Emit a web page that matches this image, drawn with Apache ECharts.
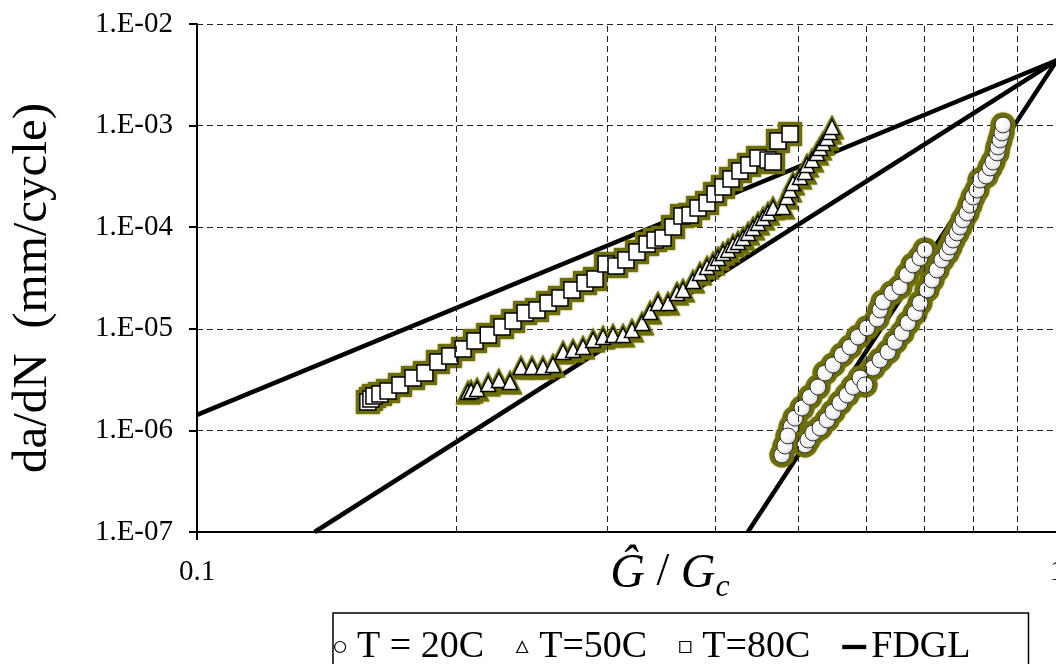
<!DOCTYPE html>
<html>
<head>
<meta charset="utf-8">
<script src="https://cdn.jsdelivr.net/npm/echarts@6/dist/echarts.min.js"></script>
<style>
html,body{margin:0;padding:0;background:#fff;}
#c{width:1056px;height:664px;}
</style>
</head>
<body>
<div id="c"></div>
<script>
// ---- data ----
const xTickValues = [0.1, 1];
const xTickLabels = ['0.1', '1'];
const yTickValues = [1e-7, 1e-6, 1e-5, 1e-4, 1e-3, 1e-2];
const yTickLabels = ['1.E-07', '1.E-06', '1.E-05', '1.E-04', '1.E-03', '1.E-02'];
const xGridValues = [0.2, 0.3, 0.4, 0.5, 0.6, 0.7, 0.8, 0.9];

const legendNames = ['T = 20C', 'T=50C', 'T=80C', 'FDGL'];

const data20C = [
  [0.4788,5.73e-7],[0.4827,7.02e-7],[0.4906,1.08e-6],[0.4866,8.81e-7],[0.4958,1.32e-6],[0.5052,1.66e-6],
  [0.5161,2.13e-6],[0.5273,2.67e-6],[0.5373,3.67e-6],[0.5490,4.40e-6],[0.5623,5.52e-6],[0.5745,6.62e-6],
  [0.5870,8.30e-6],[0.6013,1.019e-5],[0.6176,1.249e-5],[0.6226,1.53e-5],[0.6276,1.84e-5],[0.6428,2.25e-5],
  [0.6568,2.58e-5],[0.6692,3.38e-5],[0.6801,4.25e-5],[0.6930,4.98e-5],[0.7023,5.97e-5],
  [0.5093,7.18e-7],[0.5134,8.04e-7],[0.5203,9.43e-7],[0.5302,1.056e-6],[0.5403,1.266e-6],[0.5490,1.52e-6],
  [0.5593,1.86e-6],[0.5699,2.23e-6],[0.5791,2.67e-6],[0.5902,3.28e-6],[0.5981,2.80e-6],[0.6110,4.11e-6],
  [0.6226,4.93e-6],[0.6361,5.91e-6],[0.6481,7.42e-6],[0.6604,9.09e-6],[0.6711,1.14e-5],[0.6839,1.43e-5],
  [0.6930,1.79e-5],[0.7061,2.41e-5],[0.7156,3.02e-5],[0.7252,3.79e-5],[0.7350,4.76e-5],[0.7449,5.57e-5],
  [0.7509,6.39e-5],[0.7570,7.48e-5],[0.7651,8.77e-5],[0.7713,1.005e-4],[0.7775,1.18e-4],[0.7858,1.38e-4],
  [0.7922,1.65e-4],[0.7987,1.98e-4],[0.8072,2.32e-4],[0.8137,2.91e-4],[0.8269,3.19e-4],[0.8358,3.83e-4],
  [0.8425,4.38e-4],[0.8516,5.38e-4],[0.8538,6.16e-4],[0.8585,7.22e-4],[0.8631,8.46e-4],[0.8654,1.014e-3]
];

const data50C = [
  [0.2066,2.39e-6],[0.2083,2.44e-6],[0.2117,2.56e-6],[0.2181,2.86e-6],[0.2244,3.13e-6],[0.2312,2.99e-6],
  [0.2381,4.21e-6],[0.2452,4.21e-6],[0.2525,4.21e-6],[0.2594,4.40e-6],[0.2665,5.91e-6],[0.2737,6.19e-6],
  [0.2811,6.62e-6],[0.2888,7.76e-6],[0.2966,8.30e-6],[0.3046,8.69e-6],[0.3129,8.69e-6],[0.3205,9.73e-6],
  [0.3292,1.14e-5],[0.3364,1.46e-5],[0.3436,1.79e-5],[0.3529,1.79e-5],[0.3615,2.25e-5],[0.3674,2.41e-5],
  [0.3773,2.95e-5],[0.3845,3.54e-5],[0.3918,4.06e-5],[0.3981,4.44e-5],[0.4035,4.98e-5],[0.4089,5.57e-5],
  [0.4145,5.97e-5],[0.4200,6.68e-5],[0.4257,7.15e-5],[0.4315,7.83e-5],[0.4373,8.77e-5],[0.4432,9.82e-5],
  [0.4491,1.10e-4],[0.4552,1.23e-4],[0.4613,1.38e-4],[0.4675,1.55e-4],[0.4802,1.58e-4],[0.4853,1.98e-4],
  [0.4893,2.32e-4],[0.4932,2.72e-4],[0.5026,3.12e-4],[0.5093,3.49e-4],[0.5120,4.10e-4],[0.5189,4.59e-4],
  [0.5259,5.38e-4],[0.5302,6.02e-4],[0.5345,6.74e-4],[0.5403,7.55e-4],[0.5445,8.65e-4],[0.5475,9.69e-4]
];

const data80C = [
  [0.1580,1.904e-6],[0.1593,2.038e-6],[0.1606,2.18e-6],[0.1632,2.28e-6],[0.1668,2.44e-6],[0.1722,2.80e-6],
  [0.1783,3.28e-6],[0.1841,3.67e-6],[0.1906,4.71e-6],[0.1968,5.40e-6],[0.2039,6.33e-6],[0.2105,7.58e-6],
  [0.2181,8.69e-6],[0.2263,1.042e-5],[0.2331,1.193e-5],[0.2407,1.43e-5],[0.2485,1.53e-5],[0.2560,1.79e-5],
  [0.2643,2.01e-5],[0.2729,2.41e-5],[0.2826,2.82e-5],[0.2903,3.09e-5],[0.2990,4.34e-5],[0.3071,4.15e-5],
  [0.3153,4.76e-5],[0.3248,5.70e-5],[0.3337,6.83e-5],[0.3409,7.48e-5],[0.3483,7.83e-5],[0.3577,1.005e-4],
  [0.3664,1.289e-4],[0.3744,1.318e-4],[0.3825,1.545e-4],[0.3918,1.73e-4],[0.4003,2.12e-4],[0.4089,2.49e-4],
  [0.4178,2.98e-4],[0.4279,3.57e-4],[0.4383,4.10e-4],[0.4491,4.80e-4],[0.4613,4.59e-4],[0.4675,4.38e-4],
  [0.4738,7.05e-4],[0.4893,8.27e-4]
];

const fdglA = [[0.1, 1.42e-6], [1, 4.4e-3]];
const fdglB = [[0.137, 1e-7], [1, 4.4e-3]];
const fdglC = [[0.437, 1e-7], [1, 4.4e-3]];

// ---- styles ----
const FONT = "'Liberation Serif','Times New Roman',serif";
const GLOW = '#6e6e00';
const ICON_TRI = 'path://M5,0L10,10L0,10Z';
const ICON_SQ = 'path://M0,0L10,0L10,10L0,10Z';
const ICON_LINE = 'path://M0,0L28,0L28,5L0,5Z';

function tickLabel(values, labels) {
  return function (v) {
    const i = values.findIndex(t => Math.abs(Math.log10(t) - Math.log10(v)) < 1e-6);
    return i >= 0 ? labels[i] : '';
  };
}

function glowSeries(data, symbol, size) {
  return {
    type: 'scatter', name: '_glow_' + symbol, data: data, symbol: symbol, symbolSize: size,
    silent: true, z: 3,
    itemStyle: { color: GLOW, opacity: 1, shadowColor: 'rgba(110,110,0,0.8)', shadowBlur: 2 }
  };
}

const circleFill = {
  type: 'radial', x: 0.4, y: 0.4, r: 0.65,
  colorStops: [{ offset: 0, color: '#ffffff' }, { offset: 0.6, color: '#f6f6f6' }, { offset: 1, color: '#c4c4c4' }]
};

function fdglSeries(data) {
  return {
    type: 'line', name: 'FDGL', data: data, symbol: 'none', showSymbol: false, z: 2, silent: true,
    lineStyle: { color: '#000', width: 4.5 }, itemStyle: { color: '#000' }
  };
}

const chart = echarts.init(document.getElementById('c'), null, { renderer: 'canvas' });
chart.setOption({
  animation: false,
  backgroundColor: '#fff',
  grid: { left: 197, top: 24, width: 860, height: 508, containLabel: false, outerBoundsMode: 'none' },
  xAxis: {
    type: 'log', logBase: 10, min: 0.1, max: 1,
    name: '{g|Ĝ}{n| / }{g|G}{s|c}',
    nameLocation: 'middle', nameGap: 18, nameMoveOverlap: false,
    nameTextStyle: {
      padding: [0, 0, 0, 86],
      rich: {
        g: { fontFamily: FONT, fontStyle: 'italic', fontSize: 48, color: '#000', verticalAlign: 'top', lineHeight: 48 },
        n: { fontFamily: FONT, fontSize: 46, color: '#000', verticalAlign: 'top', lineHeight: 48 },
        s: { fontFamily: FONT, fontStyle: 'italic', fontSize: 32, color: '#000', verticalAlign: 'top', padding: [22, 0, 0, 0], lineHeight: 32 }
      }
    },
    axisLine: { show: true, lineStyle: { color: '#000', width: 2 } },
    axisTick: { show: true, inside: false, length: 8, lineStyle: { color: '#000', width: 2 } },
    axisLabel: { fontFamily: FONT, fontSize: 29, color: '#000', margin: 26, formatter: tickLabel(xTickValues, xTickLabels) },
    splitLine: { show: false }
  },
  yAxis: {
    type: 'log', logBase: 10, min: 1e-7, max: 1e-2,
    name: 'da/dN  (mm/cycle)', nameLocation: 'middle', nameGap: 139, nameRotate: 90, nameMoveOverlap: false,
    nameTextStyle: { fontFamily: FONT, fontSize: 49, color: '#000', padding: [0, 20, 0, 0] },
    axisLine: { show: true, lineStyle: { color: '#000', width: 2 } },
    axisTick: { show: true, inside: false, length: 8, lineStyle: { color: '#000', width: 2 } },
    axisLabel: { fontFamily: FONT, fontSize: 29, color: '#000', margin: 24, formatter: tickLabel(yTickValues, yTickLabels) },
    splitLine: { show: true, lineStyle: { color: '#222', width: 1, type: [6, 4] } }
  },
  legend: {
    data: [
      { name: legendNames[0], icon: 'circle', itemStyle: { color: '#fff', borderColor: '#000', borderWidth: 1.2 } },
      { name: legendNames[1], icon: ICON_TRI, itemStyle: { color: '#fff', borderColor: '#000', borderWidth: 1.2 } },
      { name: legendNames[2], icon: ICON_SQ, itemStyle: { color: '#fff', borderColor: '#000', borderWidth: 1.2 } },
      { name: legendNames[3], icon: ICON_LINE, itemStyle: { color: '#000', borderWidth: 0 } }
    ],
    left: 333, top: 613,
    orient: 'horizontal',
    itemWidth: 24, itemHeight: 11, itemGap: 32,
    padding: [15, 58, 15, 1],
    borderColor: '#000', borderWidth: 1.5, borderRadius: 0,
    backgroundColor: '#fff',
    selectedMode: false,
    textStyle: { fontFamily: FONT, fontSize: 38, color: '#000' }
  },
  series: [
    {
      type: 'line', name: '_grid', data: [], silent: true, z: 1,
      markLine: {
        silent: true, symbol: ['none', 'none'], label: { show: false },
        lineStyle: { color: '#222', width: 1, type: [6, 4] },
        data: xGridValues.map(v => ({ xAxis: v }))
      }
    },
    fdglSeries(fdglA),
    fdglSeries(fdglB),
    fdglSeries(fdglC),
    glowSeries(data20C, 'circle', 25),
    {
      type: 'scatter', name: legendNames[0], data: data20C, symbol: 'circle', symbolSize: 16, z: 4,
      itemStyle: { color: circleFill, opacity: 1, borderColor: '#333', borderWidth: 1 }
    },
    glowSeries(data50C, 'triangle', 25),
    {
      type: 'scatter', name: legendNames[1], data: data50C, symbol: 'triangle', symbolSize: 15, z: 4,
      itemStyle: { color: '#fff', opacity: 1, borderColor: '#000', borderWidth: 1.5 }
    },
    glowSeries(data80C, 'rect', 24),
    {
      type: 'scatter', name: legendNames[2], data: data80C, symbol: 'rect', symbolSize: 16, z: 4,
      itemStyle: { color: '#fff', opacity: 1, borderColor: '#000', borderWidth: 1.5 }
    }
  ]
});
</script>
</body>
</html>
